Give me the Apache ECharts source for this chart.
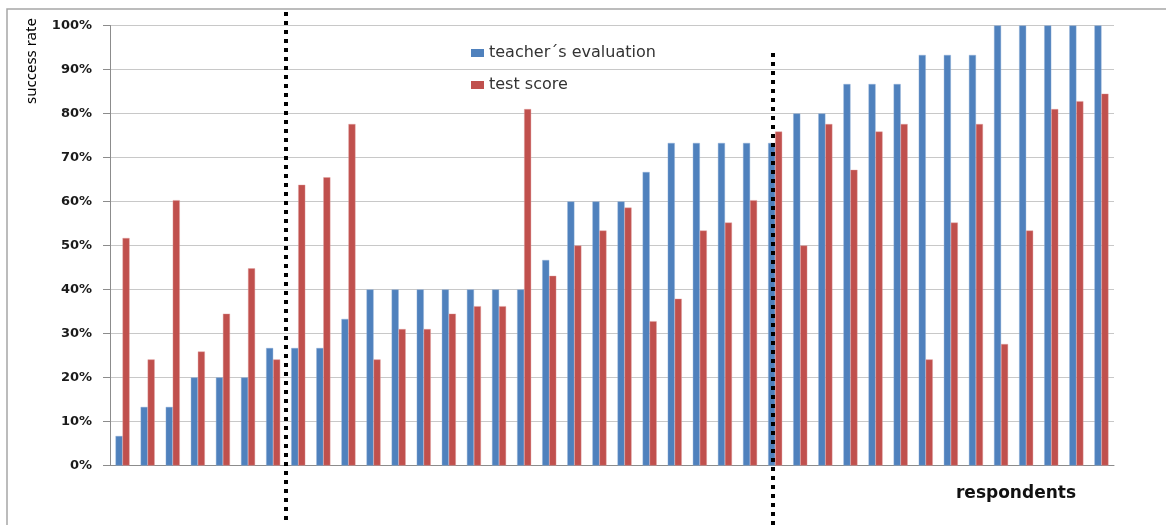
<!DOCTYPE html>
<html>
<head>
<meta charset="utf-8">
<script src="https://cdn.jsdelivr.net/npm/echarts@6/dist/echarts.min.js"></script>
<style>html,body{margin:0;padding:0;background:#fff}#c{width:1166px;height:525px}</style>
</head>
<body>
<div id="c"></div>
<script>
var categories = [];
for (var i = 1; i <= 40; i++) categories.push(String(i));
var seriesNames = ["teacher\u00b4s evaluation", "test score"];
var teacherEval = [6.7,13.3,13.3,20,20,20,26.7,26.7,26.7,33.3,40,40,40,40,40,40,40,46.7,60,60,60,66.7,73.3,73.3,73.3,73.3,73.3,80,80,86.7,86.7,86.7,93.3,93.3,93.3,100,100,100,100,100];
var testScore = [51.7,24.1,60.3,25.9,34.5,44.8,24.1,63.8,65.5,77.6,24.1,31.0,31.0,34.5,36.2,36.2,81.0,43.1,50.0,53.4,58.6,32.8,37.9,53.4,55.2,60.3,75.9,50.0,77.6,67.2,75.9,77.6,24.1,55.2,77.6,27.6,53.4,81.0,82.8,84.5];
var yTicks = [0,10,20,30,40,50,60,70,80,90,100];
// group separators (position in category units from the left edge of the axis)
var separators = [7, 26.4];

var chart = echarts.init(document.getElementById('c'), null, {renderer: 'canvas'});
var option = {
  animation: false,
  backgroundColor: '#ffffff',
  graphic: [
    {type: 'rect', shape: {x: 7, y: 9, width: 1300, height: 700}, style: {fill: 'none', stroke: '#a6a6a6', lineWidth: 1.5}, z: -10, silent: true},
    {type: 'text', x: 32, y: 61, rotation: Math.PI / 2, style: {text: 'success rate', font: '15px "Noto Sans"', fill: '#000', textAlign: 'center', textVerticalAlign: 'middle'}},
    {type: 'text', x: 1016, y: 494, style: {text: 'respondents', font: 'bold 17px "DejaVu Sans"', fill: '#111', textAlign: 'center', textVerticalAlign: 'middle'}}
  ],
  legend: {
    data: seriesNames,
    orient: 'vertical',
    left: 466,
    top: 40,
    itemWidth: 13,
    itemHeight: 8,
    itemGap: 16,
    icon: 'rect',
    itemStyle: {borderWidth: 0},
    textStyle: {fontFamily: 'DejaVu Sans', fontSize: 16, lineHeight: 16, color: '#333'}
  },
  grid: [
    {left: 110, right: 52, top: 25.5, bottom: 59.5, containLabel: false},
    {left: 110, right: 52, top: 0, bottom: 0, containLabel: false}
  ],
  xAxis: [
    {type: 'category', data: categories, gridIndex: 0,
     axisLine: {lineStyle: {color: '#8c8c8c', width: 1}},
     axisTick: {show: false}, axisLabel: {show: false}, splitLine: {show: false}},
    {type: 'value', gridIndex: 1, min: 0, max: 40, show: false}
  ],
  yAxis: [
    {type: 'value', gridIndex: 0, min: 0, max: 100, interval: 10,
     axisLine: {show: true, lineStyle: {color: '#8c8c8c', width: 1}},
     axisTick: {show: true, length: 7, lineStyle: {color: '#8c8c8c'}},
     axisLabel: {formatter: '{value}%', margin: 18, fontFamily: 'DejaVu Sans', fontWeight: 'bold', fontSize: 13, color: '#1a1a1a'},
     splitLine: {lineStyle: {color: '#c8c8c8', width: 1}}},
    {type: 'value', gridIndex: 1, min: 0, max: 525, inverse: true, show: false}
  ],
  series: [
    {name: seriesNames[0], type: 'bar', data: teacherEval, barWidth: 7, barGap: '0%',
     itemStyle: {color: '#4f81bd', borderColor: '#8fb0da', borderWidth: 0.4}},
    {name: seriesNames[1], type: 'bar', data: testScore, barWidth: 7, barGap: '0%',
     itemStyle: {color: '#c0504d', borderColor: '#e0a09e', borderWidth: 0.4}},
    {name: 'separators', type: 'scatter', xAxisIndex: 1, yAxisIndex: 1, data: [], symbolSize: 0, silent: true,
     markLine: {
       silent: true, symbol: ['none', 'none'], label: {show: false},
       lineStyle: {color: '#000', width: 4, type: [4, 5], cap: 'butt'},
       data: [
         [{coord: [separators[0], 12]}, {coord: [separators[0], 525]}],
         [{coord: [separators[1], 53]}, {coord: [separators[1], 525]}]
       ]
     }}
  ]
};
chart.setOption(option);
</script>
</body>
</html>
